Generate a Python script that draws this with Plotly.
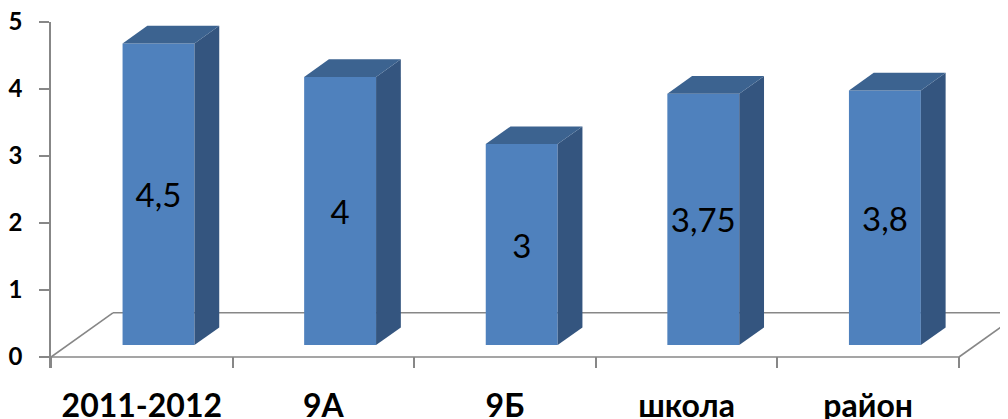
import plotly.graph_objects as go

# ---- data ----
categories = ["2011-2012", "9А", "9Б", "школа", "район"]
values = [4.5, 4.0, 3.0, 3.75, 3.8]
value_labels = ["4,5", "4", "3", "3,75", "3,8"]
y_ticks = [0, 1, 2, 3, 4, 5]

# ---- 3D look constants (data units) ----
DEPTH_DX = 0.341   # floor depth, horizontal
DEPTH_DY = 0.66    # floor depth, vertical
F_FRONT = 0.27     # depth fraction of bar front face
F_BACK = 0.67      # depth fraction of bar back face
BAR_W = 0.396

FRONT = "#4F81BD"
TOP = "#3C6390"
SIDE = "#34557F"
GREY = "#878787"
FONT = "Lato"

n = len(categories)
base = F_FRONT * DEPTH_DY
ddx = (F_BACK - F_FRONT) * DEPTH_DX
ddy = (F_BACK - F_FRONT) * DEPTH_DY
centers = [i + 0.5 + F_FRONT * DEPTH_DX for i in range(n)]

fig = go.Figure()

# side and top faces
for c, v in zip(centers, values):
    xl, xr = c - BAR_W / 2, c + BAR_W / 2
    top = base + v
    fig.add_trace(go.Scatter(
        x=[xr, xr, xr + ddx, xr + ddx, xr], y=[base, top, top + ddy, base + ddy, base],
        fill="toself", fillcolor=SIDE, line=dict(width=0), mode="lines",
        hoverinfo="skip", showlegend=False))
    fig.add_trace(go.Scatter(
        x=[xl, xr, xr + ddx, xl + ddx, xl], y=[top, top, top + ddy, top + ddy, top],
        fill="toself", fillcolor=TOP, line=dict(width=0), mode="lines",
        hoverinfo="skip", showlegend=False))

# front faces
fig.add_trace(go.Bar(
    x=centers, y=values, base=base, width=BAR_W,
    marker=dict(color=FRONT, line=dict(width=0)),
    text=value_labels,
    textposition="inside", insidetextanchor="middle", textangle=0,
    textfont=dict(family=FONT, size=33, color="black"),
    constraintext="none", showlegend=False, hoverinfo="skip"))

# floor
floor = [
    (0, 0, n, 0),
    (DEPTH_DX, DEPTH_DY, n + DEPTH_DX, DEPTH_DY),
    (0, 0, DEPTH_DX, DEPTH_DY),
    (n, 0, n + DEPTH_DX, DEPTH_DY),
]
for x0, y0, x1, y1 in floor:
    fig.add_shape(type="line", x0=x0, y0=y0, x1=x1, y1=y1, xref="x", yref="y",
                  line=dict(color=GREY, width=1.6), layer="below")

# the page body has an 8px margin, so the figure is sized/offset to compensate
fig.update_layout(
    width=1000, height=411,
    margin=dict(l=43, r=0, t=14, b=51),
    paper_bgcolor="white", plot_bgcolor="white",
    showlegend=False,
    xaxis=dict(
        range=[0, 5.27], showgrid=False, zeroline=False, showline=False,
        automargin=False, ticklabeloverflow="allow",
        tickmode="array", tickvals=[i + 0.5 for i in range(n)], ticktext=categories,
        ticks="", ticklabelstandoff=16,
        tickfont=dict(family=FONT, size=32, color="black", weight="bold"),
        minor=dict(tickmode="array", tickvals=list(range(n + 1)), ticks="inside",
                   ticklen=11, tickwidth=1.6, tickcolor=GREY, showgrid=False),
    ),
    yaxis=dict(
        range=[-0.164, 5], showgrid=False, zeroline=False,
        automargin=False, ticklabeloverflow="allow",
        showline=True, linecolor=GREY, linewidth=1.6,
        tickmode="array", tickvals=y_ticks,
        ticks="outside", ticklen=10, tickwidth=1.6, tickcolor=GREY,
        ticklabelstandoff=12,
        tickfont=dict(family=FONT, size=24, color="black", weight="bold"),
    ),
)

fig.write_html("out.html")
